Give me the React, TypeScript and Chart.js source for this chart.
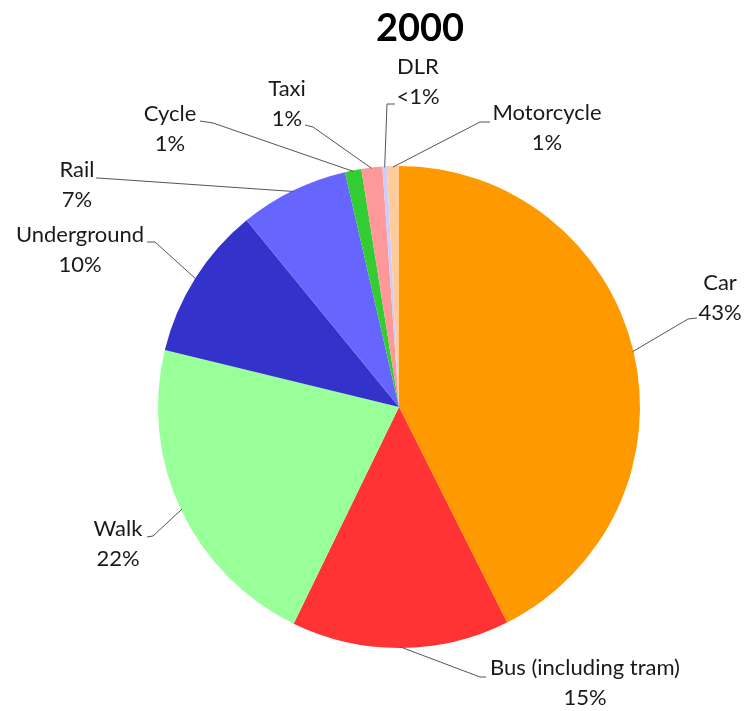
import React, { useEffect, useRef } from "react";
import { Chart, registerables } from "chart.js";

Chart.register(...registerables);

const titleText = "2000";
const categories = ["Car", "Bus (including tram)", "Walk", "Underground", "Rail", "Cycle", "Taxi", "DLR", "Motorcycle"];
const shares = [42.6, 14.6, 21.6, 10.3, 7.3, 1.1, 1.4, 0.3, 0.8];
const shareLabels = ["43%", "15%", "22%", "10%", "7%", "1%", "1%", "<1%", "1%"];
const sliceColors = ["#FF9900", "#FF3333", "#99FF99", "#3333CC", "#6666FF", "#33CC33", "#FF9999", "#CCCCFF", "#FFCC99"];

// label layout, offsets relative to the pie centre: text centre (tx, ty), leader elbow (bx, by), leader end (ex, ey)
const labelLayout = [
  { tx: 321, ty: -124, bx: 289, by: -88, ex: 298, ey: -89 },
  { tx: 186, ty: 261, bx: 81, by: 270, ex: 87, ey: 270 },
  { tx: -281, ty: 122, bx: -246, by: 129, ex: -252, ey: 130 },
  { tx: -319, ty: -172, bx: -244, by: -165, ex: -252, ey: -165 },
  { tx: -322, ty: -237, bx: -301, by: -229, ex: -303, ey: -229 },
  { tx: -229, ty: -293, bx: -186, by: -284, ex: -199, ey: -286 },
  { tx: -112, ty: -318, bx: -86, by: -280, ex: -94, ey: -282 },
  { tx: 19, ty: -340, bx: -12, by: -303, ex: -4, ey: -303 },
  { tx: 148, ty: -294, bx: 81, by: -285, ex: 91, ey: -285 },
];
const titleOffset = { x: 21, y: -378 };
const lineGap = 30;
const FONT = "Lato, 'Noto Sans', sans-serif";

const labelPlugin = {
  id: "pieLabels",
  afterDatasetsDraw(chart: any) {
    const ctx = chart.ctx;
    const meta = chart.getDatasetMeta(0);
    let cx = 0;
    let cy = 0;
    ctx.save();
    meta.data.forEach((arc: any, i: number) => {
      const p = arc.getProps(["x", "y", "startAngle", "endAngle", "outerRadius"], true);
      cx = p.x;
      cy = p.y;
      const mid = (p.startAngle + p.endAngle) / 2;
      const r = p.outerRadius - 1;
      const sx = p.x + Math.cos(mid) * r;
      const sy = p.y + Math.sin(mid) * r;
      const L = labelLayout[i];
      ctx.strokeStyle = "#555555";
      ctx.lineWidth = 1;
      ctx.beginPath();
      ctx.moveTo(sx, sy);
      ctx.lineTo(p.x + L.bx, p.y + L.by);
      ctx.lineTo(p.x + L.ex, p.y + L.ey);
      ctx.stroke();
      ctx.fillStyle = "#1a1a1a";
      ctx.font = `22px ${FONT}`;
      ctx.textAlign = "center";
      ctx.textBaseline = "middle";
      ctx.fillText(categories[i], p.x + L.tx, p.y + L.ty);
      ctx.fillText(shareLabels[i], p.x + L.tx, p.y + L.ty + lineGap);
    });
    ctx.fillStyle = "#000000";
    ctx.font = `bold 38px ${FONT}`;
    ctx.textAlign = "center";
    ctx.textBaseline = "middle";
    ctx.fillText(titleText, cx + titleOffset.x, cy + titleOffset.y);
    ctx.restore();
  },
};

export default function App() {
  const ref = useRef<HTMLCanvasElement | null>(null);
  useEffect(() => {
    if (!ref.current) return;
    const chart = new Chart(ref.current, {
      type: "pie",
      data: {
        labels: categories,
        datasets: [
          {
            data: shares,
            backgroundColor: sliceColors,
            borderWidth: 0,
          },
        ],
      },
      options: {
        animation: false,
        responsive: true,
        maintainAspectRatio: false,
        layout: { padding: { left: 158, right: 104, top: 166, bottom: 63 } },
        plugins: {
          legend: { display: false },
          tooltip: { enabled: false },
          title: { display: false },
        },
      },
      plugins: [labelPlugin],
    });
    return () => chart.destroy();
  }, []);
  return (
    <div style={{ position: "fixed", left: 0, top: 0, width: 744, height: 711, background: "#ffffff" }}>
      <canvas ref={ref} />
    </div>
  );
}
